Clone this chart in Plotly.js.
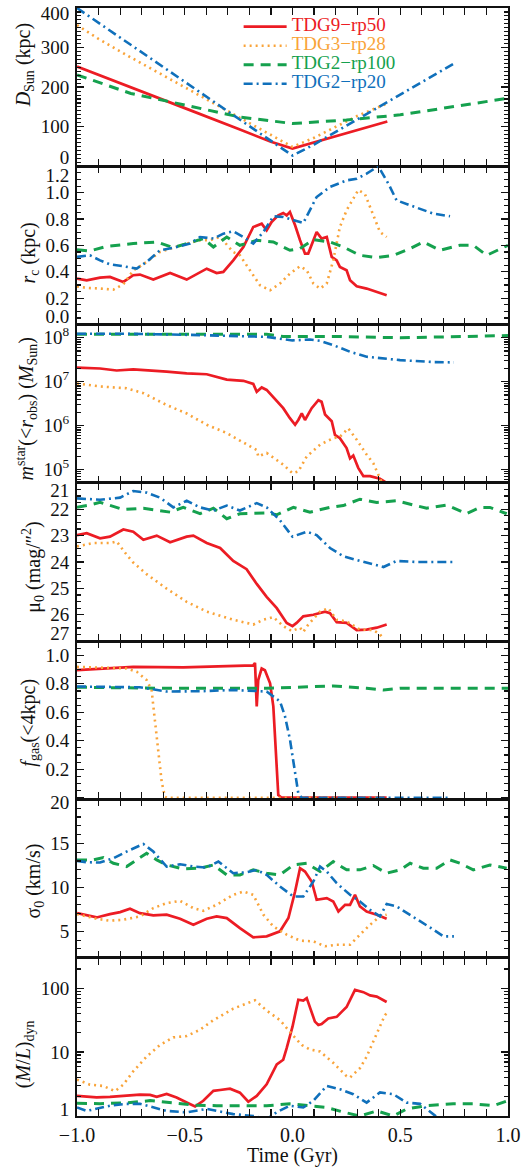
<!DOCTYPE html>
<html><head><meta charset="utf-8">
<script src="https://cdn.plot.ly/plotly-3.0.1.min.js"></script>
<style>html,body{margin:0;padding:0;background:#fff}</style>
</head><body><div id="plot"></div>
<script>
// ---------- series names / colours ----------
const seriesNames = ['TDG9\u2212rp50', 'TDG3\u2212rp28', 'TDG2\u2212rp100', 'TDG2\u2212rp20'];
const seriesColors = ['#ec1c24', '#f9a43a', '#15a14e', '#1070bb'];

// ---------- Panel 1: D_Sun (kpc) ----------
const dsunX_red = [-1, -0.75, -0.5, -0.25, -0.1, 0, 0.1, 0.2, 0.3, 0.44];
const dsunY_red = [252, 200, 147, 94, 62, 45, 60, 76, 91, 113];
const dsunX_org = [-1, -0.9, -0.75, -0.5, -0.25, -0.1, 0, 0.1, 0.2, 0.3, 0.44];
const dsunY_org = [357, 322, 275, 200, 125, 78, 49, 72, 100, 127, 159];
const dsunX_grn = [-1, -0.75, -0.5, -0.25, 0, 0.25, 0.5, 0.75, 1];
const dsunY_grn = [231, 184, 155, 125, 108, 117, 130, 151, 172];
const dsunX_blu = [-1, -0.5, -0.1, 0, 0.1, 0.5, 0.75];
const dsunY_blu = [400, 213, 64, 27, 55, 182, 260];

// ---------- Panel 2: r_c (kpc) ----------
const rcX_red = [-1,-0.955,-0.893,-0.847,-0.785,-0.739,-0.708,-0.646,-0.568,-0.491,-0.398,-0.352,-0.321,-0.275,-0.228,-0.182,-0.143,-0.12,-0.097,-0.066,-0.043,-0.027,-0.012,0.012,0.035,0.058,0.073,0.097,0.112,0.135,0.159,0.182,0.205,0.22,0.251,0.267,0.298,0.344,0.437];
const rcY_red = [0.348,0.336,0.356,0.361,0.323,0.374,0.379,0.341,0.391,0.341,0.424,0.391,0.399,0.487,0.588,0.740,0.765,0.715,0.778,0.828,0.846,0.828,0.854,0.753,0.639,0.538,0.538,0.639,0.702,0.652,0.664,0.513,0.487,0.437,0.412,0.336,0.290,0.273,0.222];
const rcX_org = [-1,-0.955,-0.893,-0.831,-0.785,-0.739,-0.677,-0.615,-0.553,-0.491,-0.429,-0.383,-0.336,-0.275,-0.244,-0.197,-0.151,-0.104,-0.058,-0.012,0.035,0.066,0.097,0.128,0.159,0.189,0.220,0.251,0.282,0.305,0.336,0.367,0.406,0.437];
const rcY_org = [0.29,0.278,0.273,0.265,0.306,0.41,0.475,0.55,0.583,0.614,0.639,0.639,0.664,0.55,0.525,0.412,0.298,0.26,0.311,0.386,0.442,0.412,0.311,0.273,0.311,0.487,0.74,0.866,0.955,1.02,0.99,0.866,0.702,0.664];
const rcX_grn = [-1,-0.94,-0.862,-0.739,-0.63,-0.553,-0.491,-0.414,-0.367,-0.305,-0.244,-0.166,-0.089,-0.012,0.035,0.097,0.174,0.236,0.313,0.391,0.468,0.546,0.607,0.684,0.777,0.839,0.901,0.947,1.0];
const rcY_grn = [0.568,0.558,0.593,0.614,0.626,0.583,0.614,0.652,0.588,0.664,0.601,0.639,0.626,0.563,0.576,0.644,0.626,0.588,0.525,0.508,0.525,0.576,0.626,0.563,0.601,0.601,0.525,0.563,0.601];
const rcX_blu = [-1,-0.94,-0.893,-0.847,-0.785,-0.723,-0.677,-0.615,-0.538,-0.476,-0.429,-0.367,-0.321,-0.275,-0.228,-0.182,-0.135,-0.089,-0.043,0.004,0.05,0.112,0.174,0.251,0.298,0.344,0.398,0.445,0.483,0.546,0.607,0.654,0.731];
const rcY_blu = [0.513,0.525,0.487,0.457,0.442,0.424,0.475,0.563,0.588,0.614,0.664,0.652,0.689,0.707,0.664,0.614,0.702,0.821,0.816,0.79,0.77,0.967,1.043,1.093,1.106,1.144,1.2,1.068,0.942,0.904,0.866,0.841,0.821];

// ---------- Panel 3: m_star(<r_obs) (M_Sun) ----------
const msX_red = [-1,-0.893,-0.816,-0.739,-0.584,-0.491,-0.398,-0.305,-0.228,-0.182,-0.166,-0.143,-0.12,-0.073,-0.043,-0.012,0.012,0.027,0.043,0.058,0.089,0.12,0.135,0.151,0.182,0.197,0.22,0.251,0.267,0.282,0.305,0.329,0.36,0.406,0.422,0.437];
const msY_red = [2.1e7,2.0e7,1.8e7,1.9e7,1.7e7,1.55e7,1.48e7,1.12e7,1.05e7,8.9e6,5.9e6,7.4e6,6.5e6,3.5e6,2.5e6,1.48e6,1.05e6,1.35e6,1.9e6,1.35e6,2.5e6,3.8e6,3.5e6,1.8e6,1.26e6,6.2e5,5.2e5,3.1e5,1.8e5,2.1e5,1.1e5,7.1e4,7.1e4,6.2e4,5.5e4,5.0e4];
const msX_org = [-1,-0.893,-0.77,-0.692,-0.584,-0.491,-0.398,-0.305,-0.197,-0.166,-0.159,-0.12,-0.043,0,0.027,0.066,0.128,0.189,0.22,0.259,0.298,0.344,0.375,0.406,0.422];
const msY_org = [9.1e6,7.8e6,7.1e6,5.5e6,2.95e6,1.9e6,1.05e6,6.8e5,3.4e5,2.8e5,2.0e5,2.4e5,1.3e5,8.3e4,9.1e4,2.0e5,3.7e5,5.2e5,5.6e5,8.7e5,4.8e5,2.2e5,1.4e5,5.9e4,4.2e4];
const msX_grn = [-1,-0.5,-0.12,-0.043,0.2,0.5,0.75,1.0];
const msY_grn = [1.2e8,1.2e8,1.2e8,1.07e8,1.07e8,1.0e8,1.07e8,1.12e8];
const msX_blu = [-1,-0.739,-0.429,-0.12,0,0.081,0.128,0.189,0.267,0.344,0.499,0.654,0.749];
const msY_blu = [1.23e8,1.23e8,1.15e8,1.05e8,8.7e7,9.1e7,8.5e7,6.8e7,4.8e7,3.7e7,3.1e7,2.8e7,2.75e7];

// ---------- Panel 4: mu_0 (mag/"^2) ----------
const muX_red = [-1,-0.955,-0.893,-0.847,-0.785,-0.739,-0.692,-0.63,-0.568,-0.491,-0.46,-0.398,-0.336,-0.275,-0.213,-0.166,-0.12,-0.073,-0.027,0,0.019,0.05,0.097,0.151,0.174,0.205,0.251,0.298,0.344,0.391,0.437];
const muY_red = [22.98,22.91,23.1,23.04,22.77,22.85,23.16,23.0,23.25,23.04,23.0,23.28,23.47,23.96,24.27,24.83,25.32,25.75,26.31,26.43,26.31,26.06,26.0,25.88,25.94,26.28,26.31,26.58,26.56,26.49,26.37];
const muX_org = [-1,-0.924,-0.847,-0.816,-0.77,-0.739,-0.677,-0.584,-0.491,-0.398,-0.275,-0.182,-0.135,-0.089,-0.043,-0.004,0.035,0.05,0.073,0.128,0.166,0.205,0.251,0.313,0.375,0.406,0.422];
const muY_org = [23.41,23.28,23.28,23.22,23.72,24.02,24.46,25.01,25.51,25.88,26.19,26.37,26.19,26.09,26.43,26.62,26.49,26.65,26.37,25.88,25.75,26.19,26.25,26.56,26.58,26.74,26.93];
const muX_grn = [-1,-0.94,-0.893,-0.785,-0.692,-0.568,-0.507,-0.429,-0.367,-0.305,-0.244,-0.12,-0.073,0.004,0.081,0.174,0.236,0.313,0.391,0.483,0.561,0.623,0.715,0.808,0.870,0.916,0.994];
const muY_grn = [21.93,21.84,21.74,22.01,21.96,22.11,21.93,22.17,21.96,22.36,22.17,22.14,22.21,21.93,22.11,21.93,21.86,21.62,21.74,21.68,21.84,21.96,21.84,22.17,21.93,21.93,22.17];
const muX_blu = [-1,-0.893,-0.8,-0.739,-0.677,-0.615,-0.553,-0.491,-0.429,-0.367,-0.305,-0.244,-0.166,-0.12,-0.058,0,0.066,0.112,0.174,0.236,0.313,0.422,0.483,0.576,0.749];
const muY_blu = [21.59,21.64,21.56,21.31,21.37,21.56,21.93,21.68,21.93,22.05,21.86,22.05,21.77,21.93,22.42,23.04,22.85,22.98,23.47,23.78,23.96,24.19,23.96,24.0,24.0];

// ---------- Panel 5: f_gas(<4kpc) ----------
const fgX_red = [-1,-0.739,-0.507,-0.275,-0.182,-0.174,-0.166,-0.159,-0.143,-0.128,-0.104,-0.089,-0.077,-0.066,-0.05,0.437];
const fgY_red = [0.896,0.919,0.915,0.924,0.93,0.947,0.642,0.827,0.908,0.896,0.804,0.642,0.342,0.018,0,0];
const fgX_org = [-1,-0.77,-0.723,-0.677,-0.654,-0.638,-0.623,-0.607,-0.592,-0.584,0.437];
const fgY_org = [0.919,0.908,0.885,0.827,0.757,0.527,0.296,0.111,0.007,0,0];
const fgX_grn = [-1,-0.584,-0.12,0.189,0.344,0.422,0.499,1.0];
const fgY_grn = [0.776,0.769,0.769,0.785,0.769,0.757,0.769,0.769];
const fgX_blu = [-1,-0.708,-0.584,-0.429,-0.275,-0.12,-0.058,-0.035,-0.012,0.012,0.027,0.043,0.731];
const fgY_blu = [0.781,0.776,0.746,0.748,0.757,0.746,0.677,0.573,0.411,0.18,0.03,0,0];

// ---------- Panel 6: sigma_0 (km/s) ----------
const sgX_red = [-1,-0.955,-0.909,-0.847,-0.8,-0.754,-0.708,-0.646,-0.584,-0.522,-0.46,-0.398,-0.352,-0.305,-0.244,-0.182,-0.12,-0.058,-0.019,0.012,0.035,0.058,0.089,0.112,0.159,0.189,0.213,0.244,0.267,0.29,0.313,0.344,0.391,0.437];
const sgY_red = [7.07,6.81,6.58,6.96,7.19,7.57,7.07,6.81,6.89,6.43,5.75,6.43,6.70,6.51,5.37,4.32,4.43,5.0,6.51,9.53,12.18,11.8,10.67,8.59,8.78,8.40,7.26,8.02,8.02,9.15,7.83,7.26,6.89,6.43];
const sgX_org = [-1,-0.909,-0.847,-0.785,-0.708,-0.646,-0.584,-0.522,-0.46,-0.414,-0.352,-0.275,-0.228,-0.182,-0.135,-0.089,-0.027,0.035,0.097,0.151,0.205,0.267,0.313,0.36,0.406,0.437];
const sgY_org = [6.96,6.43,6.21,6.32,6.70,7.64,8.21,8.47,7.64,7.34,8.02,9.15,9.53,9.15,6.89,5.56,4.62,3.94,3.86,3.30,3.48,3.48,4.62,5.75,6.70,6.89];
const sgX_grn = [-1,-0.924,-0.878,-0.831,-0.77,-0.708,-0.677,-0.63,-0.584,-0.507,-0.429,-0.367,-0.305,-0.244,-0.182,-0.12,-0.058,0.004,0.066,0.128,0.189,0.251,0.313,0.375,0.437,0.499,0.546,0.607,0.669,0.731,0.777,0.839,0.916,0.994];
const sgY_grn = [13.12,13.12,13.39,12.74,12.37,13.31,13.88,13.12,12.55,12.10,12.18,12.55,11.42,11.42,11.99,11.61,11.42,12.55,12.74,11.8,12.93,11.99,11.99,12.48,11.61,11.99,12.74,12.18,12.18,13.12,12.74,11.99,12.55,12.18];
const sgX_blu = [-1,-0.955,-0.893,-0.831,-0.77,-0.692,-0.646,-0.584,-0.522,-0.46,-0.398,-0.344,-0.275,-0.213,-0.166,-0.12,-0.058,0.004,0.05,0.097,0.128,0.159,0.205,0.267,0.313,0.36,0.406,0.437,0.483,0.546,0.607,0.654,0.7,0.749];
const sgY_blu = [13.01,12.86,12.82,13.31,14.07,14.94,14.07,12.37,12.63,12.37,12.25,12.93,11.61,11.72,11.99,11.42,10.10,8.96,8.96,10.67,12.37,11.8,10.48,9.15,8.40,7.45,6.70,8.10,7.83,6.89,5.94,5.19,4.43,4.43];

// ---------- Panel 7: (M/L)_dyn ----------
const mlX_red = [-1,-0.909,-0.847,-0.77,-0.708,-0.661,-0.63,-0.584,-0.538,-0.491,-0.452,-0.414,-0.367,-0.336,-0.29,-0.244,-0.205,-0.166,-0.12,-0.073,-0.043,-0.027,0,0.027,0.05,0.066,0.104,0.12,0.135,0.166,0.205,0.228,0.251,0.29,0.329,0.36,0.391,0.437];
const mlY_red = [2.06,1.95,1.99,2.06,2.16,2.14,1.99,2.21,1.95,1.63,1.41,1.73,2.47,2.55,2.68,2.32,1.67,2.06,3.13,6.4,7.6,11.5,25,66,64,70,30,26.5,27.4,33.6,35.6,42.6,50.8,94,86.7,77,74,60.8];
const mlX_org = [-1,-0.94,-0.878,-0.824,-0.785,-0.739,-0.677,-0.615,-0.553,-0.491,-0.429,-0.367,-0.275,-0.213,-0.174,-0.12,-0.058,0,0.043,0.081,0.128,0.189,0.251,0.267,0.313,0.344,0.391,0.429,0.437];
const mlY_org = [3.7,3.1,2.95,2.45,3.1,5.0,8.5,12.9,17,17.8,22.4,31.6,47.9,57.5,64.6,44.7,31.6,18.6,12.9,11,10.2,6.8,4.2,4.0,5.6,8.5,19.5,38,40];
const mlX_grn = [-1,-0.893,-0.77,-0.661,-0.553,-0.46,-0.352,-0.244,-0.12,-0.012,0.081,0.159,0.236,0.313,0.391,0.468,0.53,0.623,0.746,0.839,0.932,1.0];
const mlY_grn = [1.58,1.56,1.6,1.74,1.6,1.48,1.45,1.45,1.45,1.55,1.45,1.36,1.15,1.0,1.2,1.0,1.29,1.45,1.55,1.55,1.45,1.74];
const mlX_blu = [-1,-0.955,-0.847,-0.77,-0.708,-0.646,-0.584,-0.491,-0.398,-0.275,-0.182,-0.12,-0.073,-0.012,0.05,0.097,0.159,0.22,0.282,0.344,0.406,0.468,0.53,0.592,0.654,0.7];
const mlY_blu = [1.36,1.2,1.45,1.55,1.55,1.35,1.2,1.14,1.29,1.07,1.0,0.89,1.15,1.45,1.36,1.74,2.95,2.63,2.19,1.62,2.34,2.19,1.62,1.55,1.07,0.8];

// ---------- axis texts ----------
const NB = '\u00a0', ZW = '\u200b';
const yTitles = [
  ZW + NB.repeat(9) + '<i>D</i><sub>Sun</sub> (kpc)',
  '<i>r</i><sub>c</sub> (kpc)' + NB.repeat(3) + ZW,
  '<i>m</i><sup>star</sup>(&lt;<i>r</i><sub>obs</sub>) (<i>M</i><sub>Sun</sub>)' + NB.repeat(2) + ZW,
  '\u03bc<sub>0</sub> (mag/\u2033<sup>2</sup>)' + NB.repeat(2) + ZW,
  '<i>f</i><sub>gas</sub>(&lt;4kpc)' + NB + ZW,
  '\u03c3<sub>0</sub> (km/s)' + NB + ZW,
  '(<i>M</i>/<i>L</i>)<sub>dyn</sub>' + NB.repeat(7) + ZW
];
const tickText1 = ['0','100','200','300','400'];
const tickText2 = ['0.0','0.2','0.4','0.6','0.8','1.0','1.2'];
const tickText3 = ['10<sup>5</sup>','10<sup>6</sup>','10<sup>7</sup>','10<sup>8</sup>'];
const tickText4 = ['21','22','23','24','25','26','27'];
const tickText5 = ['0.2','0.4','0.6','0.8','1.0'];
const tickText6 = ['5','10','15','20'];
const tickText7 = ['1','10','100'];
const xTickText = ['\u22121.0','\u22120.5','0.0','0.5','1.0'];

// ---------- build ----------
const FONT = 'Liberation Serif, Times New Roman, serif';
const dashes = ['solid', '2px,4px', '10px,7px', '9px,4px,2px,4px'];
const widths = [2.7, 2.6, 3.0, 2.6];

const panels = [
  {xs:[dsunX_red,dsunX_org,dsunX_grn,dsunX_blu], ys:[dsunY_red,dsunY_org,dsunY_grn,dsunY_blu]},
  {xs:[rcX_red,rcX_org,rcX_grn,rcX_blu], ys:[rcY_red,rcY_org,rcY_grn,rcY_blu]},
  {xs:[msX_red,msX_org,msX_grn,msX_blu], ys:[msY_red,msY_org,msY_grn,msY_blu]},
  {xs:[muX_red,muX_org,muX_grn,muX_blu], ys:[muY_red,muY_org,muY_grn,muY_blu]},
  {xs:[fgX_red,fgX_org,fgX_grn,fgX_blu], ys:[fgY_red,fgY_org,fgY_grn,fgY_blu]},
  {xs:[sgX_red,sgX_org,sgX_grn,sgX_blu], ys:[sgY_red,sgY_org,sgY_grn,sgY_blu]},
  {xs:[mlX_red,mlX_org,mlX_grn,mlX_blu], ys:[mlY_red,mlY_org,mlY_grn,mlY_blu]}
];

const axCfg = [
  {type:'linear', range:[0,400], dtick:100, minor:10, labVals:[23,100,200,300,387], labText:tickText1},
  {type:'linear', range:[0,1.2], dtick:0.2, minor:0.05, labVals:[0.066,0.2,0.4,0.6,0.8,1.0,1.13], labText:tickText2},
  {type:'log', range:[4.7,8.3], dtick:1, minor:'D1', labVals:[1e5,1e6,1e7,1e8], labText:tickText3},
  {type:'linear', range:[27,21], dtick:1, minor:0.25, labVals:[21.27,22,23,24,25,26,26.7], labText:tickText4},
  {type:'linear', range:[-0.012,1.1], dtick:0.2, minor:0.05, labVals:[0.2,0.4,0.6,0.8,1.0], labText:tickText5},
  {type:'linear', range:[2,20], dtick:5, minor:1, labVals:[5,10,15,19.65], labText:tickText6},
  {type:'log', range:[0,2.477], dtick:1, minor:'D1', labVals:[1.28,10,100], labText:tickText7}
];

const traces = [];
const layout = {
  width:522, height:1167,
  margin:{l:77, r:14, t:8, b:51, pad:0},
  paper_bgcolor:'#fff', plot_bgcolor:'rgba(0,0,0,0)',
  font:{family:FONT, size:19, color:'#111'},
  showlegend:true,
  legend:{x:0.375, y:0.9962, xanchor:'left', yanchor:'top', bgcolor:'rgba(0,0,0,0)',
          borderwidth:0, font:{family:FONT, size:10}, itemwidth:43, tracegroupgap:0,
          traceorder:'normal'}
};

const idx = i => (i === 0 ? '' : String(i + 1));
for (let p = 0; p < 7; p++) {
  const xid = 'x' + idx(p), yid = 'y' + idx(p);
  const labId = 'y' + (p + 8);
  const dom = [(6 - p) / 7, (7 - p) / 7];
  const c = axCfg[p];
  for (let s = 0; s < 4; s++) {
    traces.push({
      type:'scatter', mode:'lines', x:panels[p].xs[s], y:panels[p].ys[s],
      xaxis:xid, yaxis:yid,
      name:'<span style="color:' + seriesColors[s] + ';font-size:19px">' + seriesNames[s] + '</span>',
      legendgroup:'s' + s, showlegend:p === 0,
      line:{color:seriesColors[s], width:widths[s], dash:dashes[s]},
      hoverinfo:'skip'
    });
  }
  traces.push({type:'scatter', mode:'lines', x:[], y:[], xaxis:xid, yaxis:labId, showlegend:false, hoverinfo:'skip'});

  layout['xaxis' + idx(p)] = {
    domain:[0,1], range:[-1,1], anchor:yid, type:'linear',
    tickmode:'array', tickvals:[-1,-0.5,0,0.5,1], ticktext:xTickText,
    ticks:'inside', ticklen:7, tickwidth:1.3, tickcolor:'#111',
    minor:{ticks:'inside', ticklen:4, tickwidth:1.1, tickcolor:'#111', tickmode:'linear', tick0:-1, dtick:0.1, showgrid:false},
    showline:true, linewidth:1.6, linecolor:'#111', mirror:'allticks',
    showgrid:false, zeroline:false, showticklabels:p === 6,
    tickfont:{family:FONT, size:20, color:'#111'},
    title: p === 6 ? {text:'Time (Gyr)', font:{family:FONT, size:20, color:'#111'}, standoff:2} : undefined
  };
  layout['yaxis' + idx(p)] = {
    domain:dom, range:c.range, anchor:xid, type:c.type,
    tickmode:'linear', tick0:0, dtick:c.dtick,
    ticks:'inside', ticklen:7, tickwidth:1.3, tickcolor:'#111',
    minor:(c.minor === 'D1')
      ? {ticks:'inside', ticklen:4, tickwidth:1.1, tickcolor:'#111', dtick:'D1', showgrid:false}
      : {ticks:'inside', ticklen:4, tickwidth:1.1, tickcolor:'#111', tickmode:'linear', tick0:0, dtick:c.minor, showgrid:false},
    showline:true, linewidth:1.6, linecolor:'#111', mirror:'allticks',
    showgrid:false, zeroline:false, showticklabels:false
  };
  layout['yaxis' + (p + 8)] = {
    overlaying:yid, anchor:xid, side:'left', range:c.range, type:c.type,
    tickmode:'array', tickvals:c.labVals, ticktext:c.labText,
    ticks:'outside', ticklen:3, tickcolor:'rgba(0,0,0,0)',
    showline:false, showgrid:false, zeroline:false,
    tickfont:{family:FONT, size:19, color:'#111'},
    title:{text:yTitles[p], font:{family:FONT, size:20, color:'#111'}, standoff:4}
  };
}

Plotly.newPlot('plot', traces, layout, {displayModeBar:false, staticPlot:true});
</script>
</body></html>
